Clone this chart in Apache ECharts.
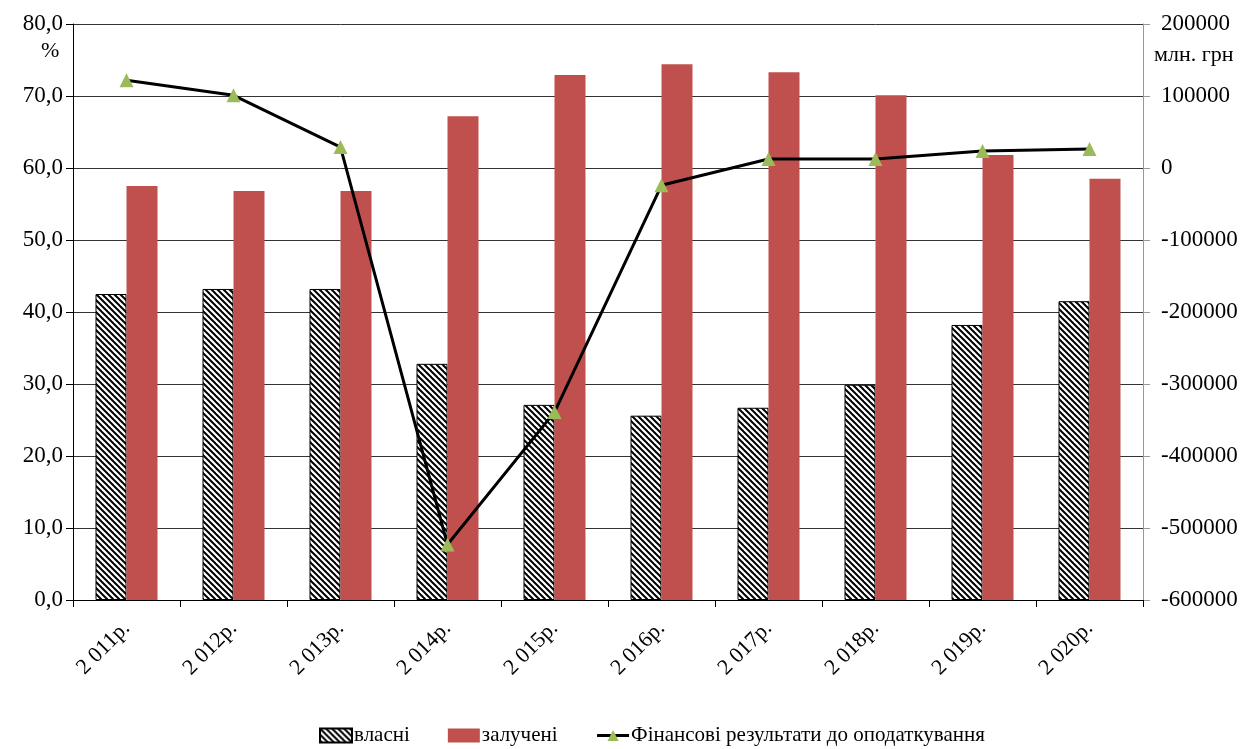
<!DOCTYPE html>
<html>
<head>
<meta charset="utf-8">
<script src="https://cdn.jsdelivr.net/npm/echarts@6/dist/echarts.min.js"></script>
<style>
  html, body { margin: 0; padding: 0; background: #fff; }
  #chart { width: 1244px; height: 749px; }
</style>
</head>
<body>
<div id="chart"></div>
<script>
var years = ["2 011р.", "2 012р.", "2 013р.", "2 014р.", "2 015р.", "2 016р.", "2 017р.", "2 018р.", "2 019р.", "2 020р."];
var vlasni = [42.5, 43.2, 43.2, 32.8, 27.1, 25.6, 26.7, 29.9, 38.2, 41.5];
var zalucheni = [57.5, 56.8, 56.8, 67.2, 72.9, 74.4, 73.3, 70.1, 61.8, 58.5];
var finResult = [122000, 101000, 29000, -523000, -339000, -24000, 12500, 12500, 23500, 26500];

// hatch pattern "\\\" for власні
function makeHatch() {
  var s = 6;
  var c = document.createElement("canvas");
  c.width = s;
  c.height = s;
  var ctx = c.getContext("2d");
  ctx.fillStyle = "#fff";
  ctx.fillRect(0, 0, s, s);
  ctx.strokeStyle = "#000";
  ctx.lineWidth = 2;
  [-s, 0, s].forEach(function (k) {
    ctx.beginPath();
    ctx.moveTo(k - 1, -1);
    ctx.lineTo(k + s + 1, s + 1);
    ctx.stroke();
  });
  return c;
}

var font = "'Liberation Serif', 'Times New Roman', serif";
var myChart = echarts.init(document.getElementById("chart"));
var option = {
  animation: false,
  textStyle: { fontFamily: font },
  grid: { left: 73, right: 101, top: 24, bottom: 149 },
  legend: {
    bottom: -2,
    left: 314,
    itemGap: 38,
    itemWidth: 32,
    itemHeight: 14,
    textStyle: { fontFamily: font, fontSize: 21, color: "#000", padding: [0, 0, 0, -3] },
    data: [
      { name: "власні", icon: "rect" },
      { name: "залучені", icon: "rect" },
      { name: "Фінансові результати до оподаткування", lineStyle: { width: 3 } }
    ]
  },
  xAxis: {
    type: "category",
    data: years,
    axisLine: { lineStyle: { color: "#000", width: 1 } },
    axisTick: { show: true, length: 7, lineStyle: { color: "#000" } },
    axisLabel: { rotate: 45, fontSize: 22, color: "#000", margin: 25, fontFamily: font }
  },
  yAxis: [
    {
      type: "value",
      min: 0,
      max: 80,
      interval: 10,
      axisLine: { show: true, lineStyle: { color: "#000" } },
      axisTick: { show: true, length: 7, lineStyle: { color: "#000" } },
      splitLine: { show: true, lineStyle: { color: "#333", width: 1 } },
      axisLabel: {
        fontSize: 23, color: "#000", margin: 10, fontFamily: font,
        formatter: function (v) { return v.toFixed(1).replace(".", ","); }
      }
    },
    {
      type: "value",
      min: -600000,
      max: 200000,
      interval: 100000,
      position: "right",
      axisLine: { show: true, lineStyle: { color: "#999" } },
      axisTick: { show: true, length: 7, lineStyle: { color: "#999" } },
      splitLine: { show: false },
      axisLabel: {
        fontSize: 23, color: "#000", margin: 18, fontFamily: font,
        formatter: function (v) { return String(v); }
      }
    }
  ],
  graphic: [
    { type: "text", left: 41, top: 40, style: { text: "%", font: "22px " + font, fill: "#000" } },
    { type: "text", left: 1154, top: 44, style: { text: "млн. грн", font: "22px " + font, fill: "#000" } }
  ],
  series: [
    {
      name: "власні",
      type: "bar",
      data: vlasni,
      barWidth: 31,
      barGap: "0%",
      itemStyle: { color: { image: makeHatch(), repeat: "repeat" }, borderColor: "#000", borderWidth: 1 }
    },
    {
      name: "залучені",
      type: "bar",
      data: zalucheni,
      barWidth: 31,
      barGap: "0%",
      itemStyle: { color: "#C0504D" }
    },
    {
      name: "Фінансові результати до оподаткування",
      type: "line",
      yAxisIndex: 1,
      data: finResult,
      symbol: "triangle",
      symbolSize: 14,
      lineStyle: { color: "#000", width: 3 },
      itemStyle: { color: "#9BBB59", borderWidth: 0 }
    }
  ]
};
myChart.setOption(option, true);
</script>
</body>
</html>
